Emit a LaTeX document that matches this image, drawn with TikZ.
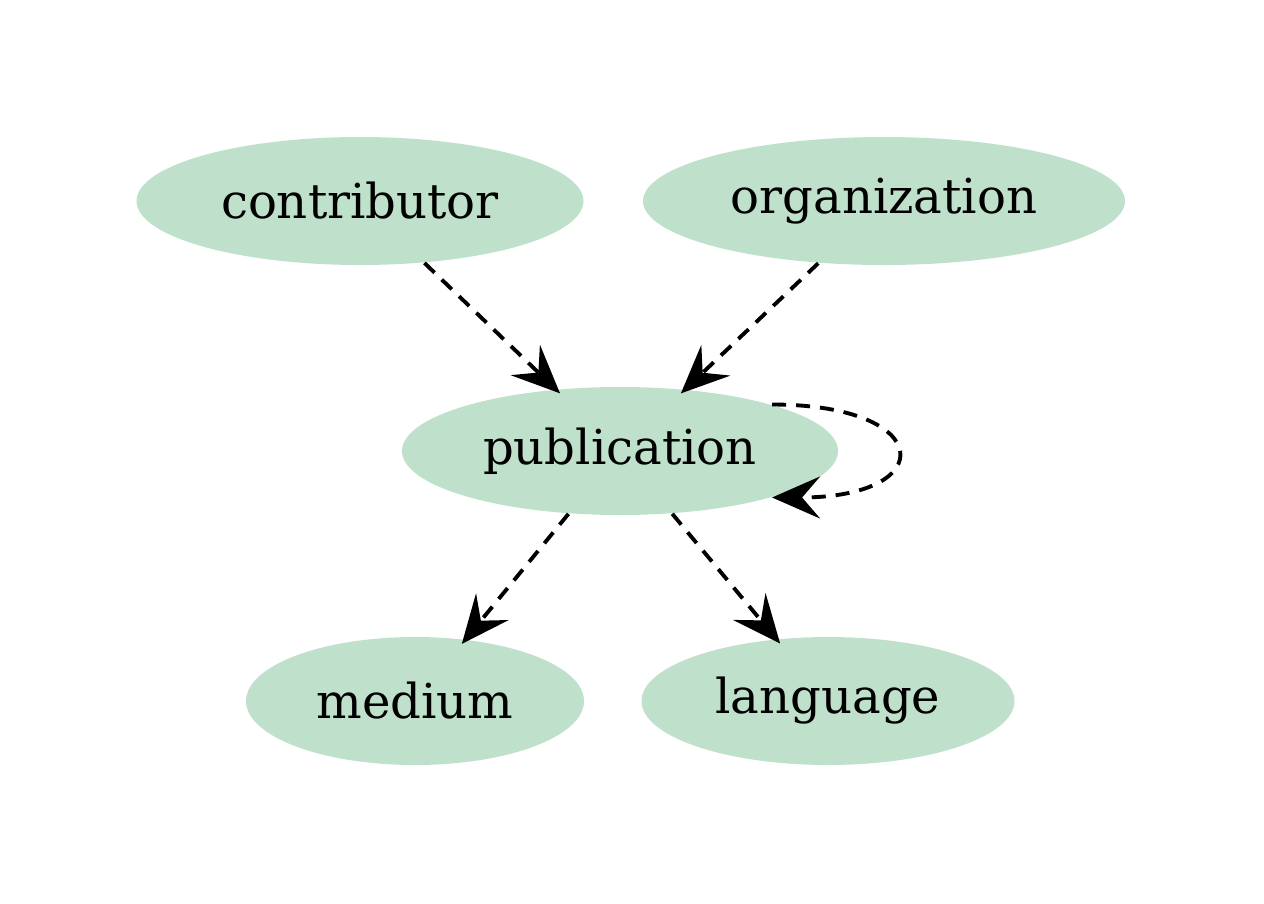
\documentclass[tikz,border=0pt]{standalone}
\usepackage{fontspec}
\setmainfont{DejaVu Serif}
\usetikzlibrary{arrows.meta}
\usetikzlibrary{shapes.geometric}
\definecolor{entgreen}{RGB}{191,224,203}

\begin{document}
\begin{tikzpicture}[
    entity/.style={shape=ellipse, fill=entgreen, draw=none, inner sep=0pt, font=\fontsize{13.7}{16}\selectfont},
    link/.style={-{Stealth[length=0.48cm, width=0.42cm, inset=0.18cm]}, line width=1.1pt, dash pattern=on 0.14cm off 0.1cm, shorten >=-0.06cm}]
    \useasboundingbox (0,0) rectangle (12.64,-9.03);
    \node[entity, minimum width=4.47cm, minimum height=1.28cm] (contributor) at (3.60,-2.01) {contributor};
    \node[entity, minimum width=4.82cm, minimum height=1.28cm] (organization) at (8.84,-2.01) {organization};
    \node[entity, minimum width=4.36cm, minimum height=1.28cm] (publication) at (6.20,-4.51) {publication};
    \node[entity, minimum width=3.38cm, minimum height=1.28cm] (medium) at (4.15,-7.01) {medium};
    \node[entity, minimum width=3.73cm, minimum height=1.28cm] (language) at (8.28,-7.01) {language};
    \draw[link] (contributor) -- (publication);
    \draw[link] (organization) -- (publication);
    \draw[link] (publication) -- (medium);
    \draw[link] (publication) -- (language);
    \draw[link, shorten >=0pt] (publication.17) .. controls +(1.64,0) and +(1.68,0) .. (publication.-17);
\end{tikzpicture}
\end{document}
